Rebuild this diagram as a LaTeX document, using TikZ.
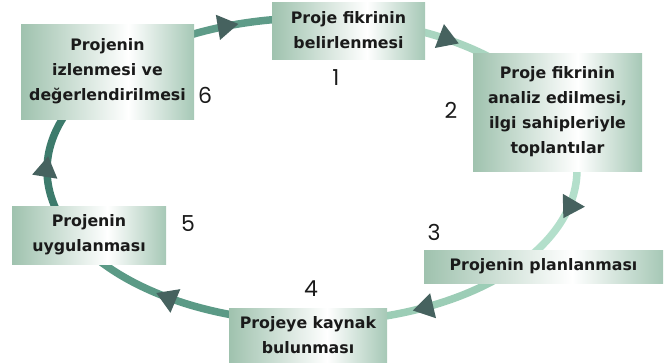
\documentclass[tikz,border=0pt]{standalone}
\usepackage{fontspec}
\setmainfont{DejaVu Sans}
\newfontfamily\numfont{Poppins}
\usetikzlibrary{arrows.meta,decorations.markings,backgrounds,calc}
\definecolor{bxL}{HTML}{9FC2AE}
\definecolor{bxR}{HTML}{A6C8B6}
\definecolor{txtc}{HTML}{1A1A1A}
\definecolor{arrc}{HTML}{46625F}
\definecolor{cA}{HTML}{5E9B88}
\definecolor{cB}{HTML}{A9D5C0}
\definecolor{cC}{HTML}{B3DFCB}
\definecolor{cD}{HTML}{9CCDB6}
\definecolor{cE}{HTML}{5B9A86}
\definecolor{cF}{HTML}{3D7B6C}
\pgfdeclarehorizontalshading{boxshade}{100bp}{color(0bp)=(bxL); color(25bp)=(bxL); color(56bp)=(white); color(75bp)=(bxR); color(100bp)=(bxR)}
\tikzset{
  box/.style={rectangle, shade, shading=boxshade, inner sep=0pt, align=center,
    font=\bfseries\fontsize{15.8}{25}\selectfont, text=txtc},
  num/.style={font=\numfont\fontsize{22}{24}\selectfont, text=txtc, inner sep=0pt},
  conn/.style={line width=7.5pt},
  midarrow/.style={postaction={decorate, decoration={markings,
    mark=at position #1 with {\arrow{Triangle[length=21pt,width=24pt,color=arrc]}}}}}
}
\begin{document}
\begin{tikzpicture}[x=1pt,y=1pt]
\useasboundingbox (0,0) rectangle (670,-364);
% boxes
\node[box, minimum width=153pt, minimum height=57pt] (n1) at (348.5,-30.5) {Proje fikrinin\\belirlenmesi};
\node[box, minimum width=169pt, minimum height=118pt] (n2) at (557.5,-112) {Proje fikrinin\\analiz edilmesi,\\ilgi sahipleriyle\\toplantılar};
\node[box, minimum width=239pt, minimum height=33pt] (n3) at (543.5,-266.5) {Projenin planlanması};
\node[box, minimum width=158pt, minimum height=54pt] (n4) at (308,-335) {Projeye kaynak\\bulunması};
\node[box, minimum width=154pt, minimum height=58pt] (n5) at (89,-235) {Projenin\\uygulanması};
\node[box, minimum width=173pt, minimum height=95pt] (n6) at (107.5,-71.5) {Projenin\\izlenmesi ve\\değerlendirilmesi};
% numbers
\node[num] (l1) at (336,-78) {1};
\node[num] (l2) at (451,-110) {2};
\node[num] (l3) at (434,-232) {3};
\node[num] (l4) at (311,-289) {4};
\node[num] (l5) at (188,-224) {5};
\node[num] (l6) at (205,-95) {6};
% cycle connectors
\coordinate (O) at (312,-170);
\begin{scope}[on background layer]
\draw[conn, draw=cA, midarrow=0.57] ($(O)+(120:265 and 152)$) coordinate (n6-out)
  arc[start angle=120, end angle=96, x radius=265, y radius=152] coordinate (n1-in);
\draw[conn, draw=cB, midarrow=0.58] ($(O)+(67.8:265 and 152)$) coordinate (n1-out)
  arc[start angle=67.8, end angle=47.4, x radius=265, y radius=152] coordinate (n2-in);
\draw[conn, draw=cC, midarrow=0.53] ($(O)+(2.6:265 and 152)$) coordinate (n2-out)
  arc[start angle=2.6, end angle=-34.8, x radius=265, y radius=152] coordinate (n3-in);
\draw[conn, draw=cD, midarrow=0.70] ($(O)+(-45:265 and 152)$) coordinate (n3-out)
  arc[start angle=-45, end angle=-76.6, x radius=265, y radius=152] coordinate (n4-in);
\draw[conn, draw=cE, midarrow=0.56] ($(O)+(-105.3:265 and 152)$) coordinate (n4-out)
  arc[start angle=-105.3, end angle=-144.8, x radius=265, y radius=152] coordinate (n5-in);
\draw[conn, draw=cF, midarrow=0.55] ($(O)+(196.7:265 and 152)$) coordinate (n5-out)
  arc[start angle=196.7, end angle=157.4, x radius=265, y radius=152] coordinate (n6-in);
\end{scope}
\end{tikzpicture}
\end{document}
